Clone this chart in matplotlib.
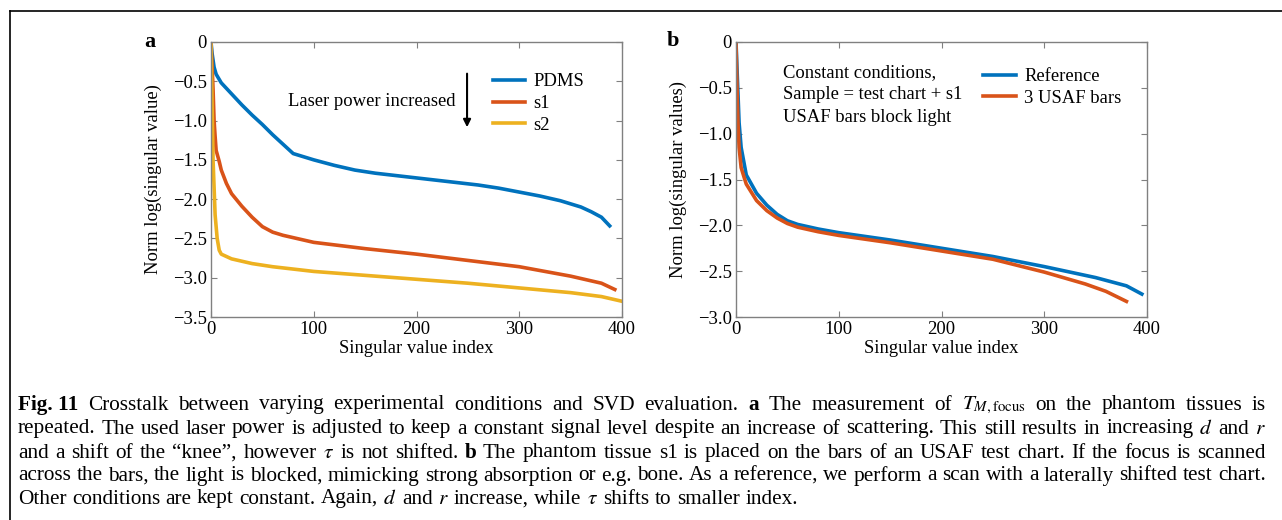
import matplotlib
matplotlib.use('Agg')
import matplotlib.pyplot as plt
from matplotlib.lines import Line2D
from matplotlib.ticker import FuncFormatter


# ==================================== data ============================
# panel a : (index, norm log singular value)
pdms_idx = [0, 1, 3, 5, 10, 20, 30, 40, 50, 60, 70, 80, 100, 120, 140, 160, 180, 200,
            220, 240, 260, 280, 300, 320, 340, 350, 360, 370, 380, 388]
pdms_val = [0, -0.14, -0.32, -0.41, -0.52, -0.66, -0.80, -0.93, -1.05, -1.18, -1.30, -1.42,
            -1.50, -1.57, -1.63, -1.67, -1.70, -1.73, -1.76, -1.79, -1.82, -1.86, -1.91,
            -1.96, -2.02, -2.06, -2.10, -2.16, -2.23, -2.34]
s1_idx = [0, 2, 3, 4, 5, 8, 10, 15, 20, 30, 40, 50, 60, 70, 80, 100, 150, 200, 250, 300,
          350, 380, 393]
s1_val = [0, -0.6, -1.0, -1.2, -1.38, -1.52, -1.63, -1.80, -1.93, -2.09, -2.23, -2.35,
          -2.42, -2.46, -2.49, -2.55, -2.63, -2.70, -2.78, -2.86, -2.98, -3.07, -3.15]
s2_idx = [0, 2, 4, 6, 8, 10, 20, 40, 60, 100, 150, 200, 250, 300, 350, 380, 400]
s2_val = [0, -1.5, -2.2, -2.5, -2.65, -2.70, -2.76, -2.82, -2.86, -2.92, -2.97, -3.02,
          -3.07, -3.13, -3.19, -3.24, -3.30]

# panel b
ref_idx = [0, 3, 5, 10, 20, 30, 40, 50, 60, 80, 100, 150, 200, 250, 300, 350, 380, 395]
ref_val = [0, -0.88, -1.15, -1.45, -1.65, -1.78, -1.88, -1.95, -1.99, -2.04, -2.08, -2.16,
           -2.25, -2.34, -2.45, -2.57, -2.66, -2.75]
usaf_idx = [0, 1, 2, 3, 5, 8, 10, 15, 20, 30, 40, 50, 60, 80, 100, 150, 200, 250, 300,
            340, 360, 380]
usaf_val = [0, -0.5, -0.9, -1.15, -1.37, -1.48, -1.55, -1.64, -1.73, -1.84, -1.92, -1.98,
            -2.02, -2.07, -2.11, -2.19, -2.28, -2.37, -2.51, -2.64, -2.72, -2.83]

x_ticks = [0, 100, 200, 300, 400]
ya_ticks = [0, -0.5, -1.0, -1.5, -2.0, -2.5, -3.0, -3.5]
yb_ticks = [0, -0.5, -1.0, -1.5, -2.0, -2.5, -3.0]

BLUE, RED, YEL = '#0072BD', '#D95319', '#EDB120'

plt.rcParams['font.family'] = ['Liberation Serif', 'DejaVu Serif']
plt.rcParams['mathtext.fontset'] = 'stix'
FS = 13.4

fig = plt.figure(figsize=(12.82, 5.2), dpi=100)


def fmt(v, _):
    if abs(v) < 1e-9:
        return '0'
    return f'{v:.1f}'.replace('-', '\u2212')


def style_axes(ax, yticks, ymin):
    ax.set_xlim(0, 400)
    ax.set_ylim(ymin, 0)
    ax.set_xticks(x_ticks)
    ax.set_yticks(yticks)
    ax.yaxis.set_major_formatter(FuncFormatter(fmt))
    ax.tick_params(direction='in', top=True, right=True, length=4, width=0.8,
                   color='#808080', labelsize=FS, pad=3)
    for sp in ax.spines.values():
        sp.set_color('#808080')
        sp.set_linewidth(1.0)
    ax.set_xlabel('Singular value index', fontsize=FS, labelpad=1)


# ==================================== panel a =============================================
ax1 = fig.add_axes([211 / 1282, 1 - 317 / 520, 411 / 1282, 275 / 520])
ax1.plot(pdms_idx, pdms_val, color=BLUE, lw=2.6, label='PDMS')
ax1.plot(s1_idx, s1_val, color=RED, lw=2.6, label='s1')
ax1.plot(s2_idx, s2_val, color=YEL, lw=2.6, label='s2')
style_axes(ax1, ya_ticks, -3.5)
ax1.set_ylabel('Norm log(singular value)', fontsize=FS, labelpad=8)
ax1.legend(loc='upper left', bbox_to_anchor=(0.685, 0.886), frameon=False, fontsize=FS,
           handlelength=1.75, handletextpad=0.45, labelspacing=0.25, borderaxespad=0,
           borderpad=0)
ax1.text(0.39, 0.785, 'Laser power increased', transform=ax1.transAxes,
         fontsize=FS, ha='center', va='center')
ax1.annotate('', xy=(0.623, 0.68), xytext=(0.623, 0.895), xycoords='axes fraction',
             arrowprops=dict(arrowstyle='-|>', color='black', lw=1.5, mutation_scale=11))
fig.text(150 / 1282, 1 - 42 / 520, 'a', fontsize=16, fontweight='bold', ha='center', va='center')

# ==================================== panel b =============================================
ax2 = fig.add_axes([736 / 1282, 1 - 317 / 520, 411 / 1282, 275 / 520])
ax2.plot(ref_idx, ref_val, color=BLUE, lw=2.6, label='Reference')
ax2.plot(usaf_idx, usaf_val, color=RED, lw=2.6, label='3 USAF bars')
style_axes(ax2, yb_ticks, -3.0)
ax2.set_ylabel('Norm log(singular values)', fontsize=FS, labelpad=8)
ax2.legend(loc='upper left', bbox_to_anchor=(0.602, 0.905), frameon=False, fontsize=FS,
           handlelength=1.75, handletextpad=0.45, labelspacing=0.25, borderaxespad=0,
           borderpad=0)
ax2.text(0.114, 0.92, 'Constant conditions,\nSample = test chart + s1\nUSAF bars block light',
         transform=ax2.transAxes, fontsize=FS, ha='left', va='top', linespacing=1.42)
fig.text(673 / 1282, 1 - 41 / 520, 'b', fontsize=16, fontweight='bold', ha='center', va='center')

# ==================================== frame ===============================================
fig.add_artist(Line2D([9.5 / 1282, 1], [1 - 10.5 / 520, 1 - 10.5 / 520],
                      transform=fig.transFigure, color='black', lw=1.2))
fig.add_artist(Line2D([9.5 / 1282, 9.5 / 1282], [0, 1 - 10.5 / 520],
                      transform=fig.transFigure, color='black', lw=1.2))

# ==================================== caption (justified) =================================
cap_lines = [
    [('Fig. 11', 'bold'), ('Crosstalk between varying experimental conditions and SVD evaluation.', 'normal'),
     ('a', 'bold'), ('The measurement of', 'normal'), (r'$T_{M,\mathrm{focus}}$', 'normal'),
     ('on the phantom tissues is', 'normal')],
    [('repeated. The used laser power is adjusted to keep a constant signal level despite an '
      'increase of scattering. This still results in increasing', 'normal'), ('$d$', 'normal'),
     ('and', 'normal'), ('$r$', 'normal')],
    [('and a shift of the \u201cknee\u201d, however', 'normal'), (r'$\tau$', 'normal'),
     ('is not shifted.', 'normal'), ('b', 'bold'),
     ('The phantom tissue s1 is placed on the bars of an USAF test chart. If the focus is scanned', 'normal')],
    [('across the bars, the light is blocked, mimicking strong absorption or e.g. bone. As a '
      'reference, we perform a scan with a laterally shifted test chart.', 'normal')],
    [('Other conditions are kept constant. Again,', 'normal'), ('$d$', 'normal'), ('and', 'normal'),
     ('$r$', 'normal'), ('increase, while', 'normal'), (r'$\tau$', 'normal'),
     ('shifts to smaller index.', 'normal')],
]
cap_y = [405, 429, 453, 476, 499]
x_left, x_right = 18, 1266
renderer = fig.canvas.get_renderer()
CFS = 15.3

# width of a normal space at caption size
t1 = fig.text(0, 0, 'a b', fontsize=CFS)
t2 = fig.text(0, 0, 'ab', fontsize=CFS)
space_w = t1.get_window_extent(renderer).width - t2.get_window_extent(renderer).width
t1.remove()
t2.remove()

for li, (segs, ypix) in enumerate(zip(cap_lines, cap_y)):
    words = []
    for txt, wt in segs:
        if txt.startswith('$') or wt == 'bold':
            words.append((txt, wt))
        else:
            words.extend((w, wt) for w in txt.split(' '))
    arts, widths = [], []
    for w, wt in words:
        t = fig.text(0, 1 - ypix / 520, w, fontsize=CFS, fontweight=wt, ha='left', va='center')
        arts.append(t)
        widths.append(t.get_window_extent(renderer).width)
    if li < len(cap_lines) - 1:
        gap = (x_right - x_left - sum(widths)) / (len(words) - 1)
    else:
        gap = space_w
    x = x_left
    for t, w in zip(arts, widths):
        t.set_x(x / 1282)
        x += w + gap

fig.savefig('out.png', dpi=100)
